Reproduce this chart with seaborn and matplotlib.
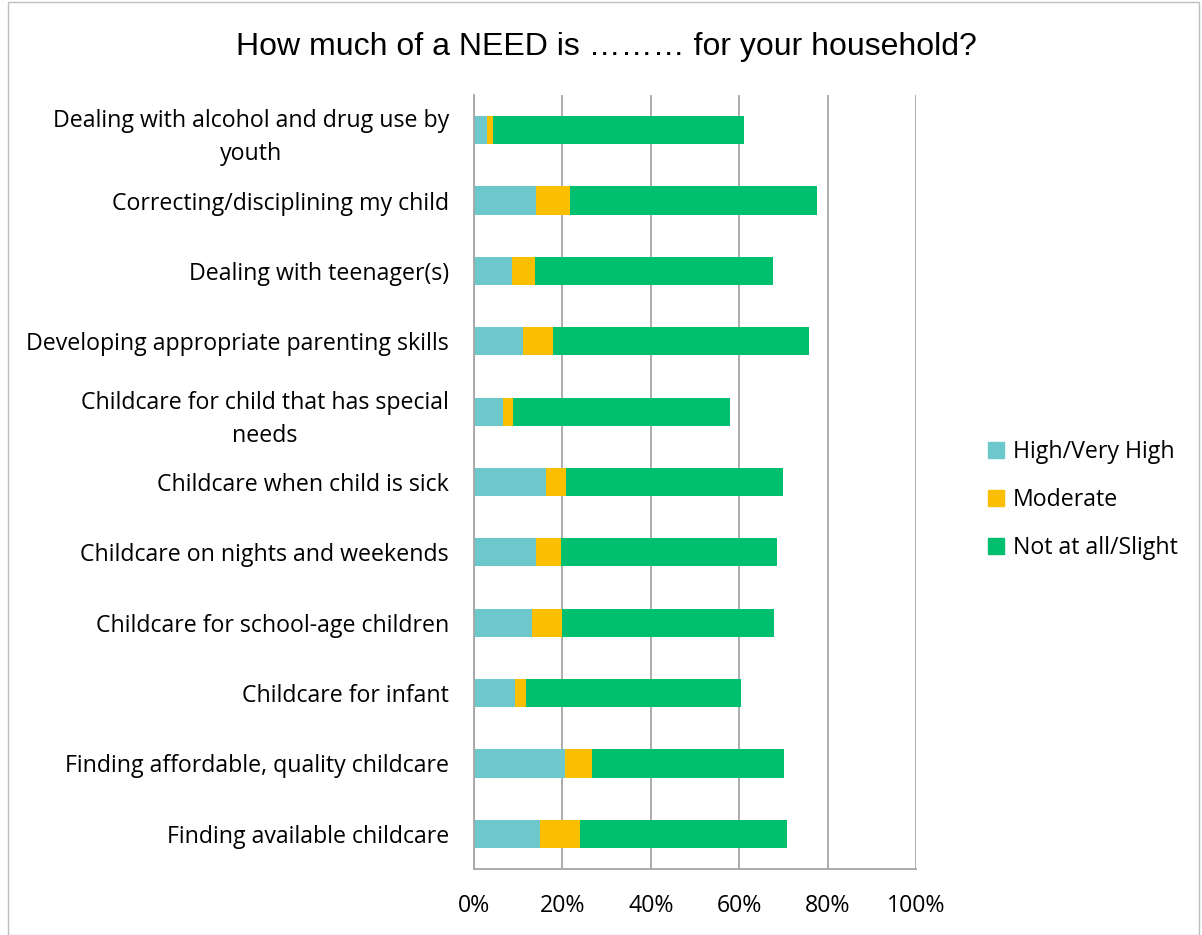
import matplotlib
matplotlib.use("Agg")
import matplotlib.pyplot as plt
import seaborn as sns
import pandas as pd
import numpy as np
from matplotlib.patches import Rectangle
from matplotlib.lines import Line2D

categories = [
    "Dealing with alcohol and drug use by\nyouth",
    "Correcting/disciplining my child",
    "Dealing with teenager(s)",
    "Developing appropriate parenting skills",
    "Childcare for child that has special\nneeds",
    "Childcare when child is sick",
    "Childcare on nights and weekends",
    "Childcare for school-age children",
    "Childcare for infant",
    "Finding affordable, quality childcare",
    "Finding available childcare",
]
high = [3.0, 14.1, 8.6, 11.1, 6.5, 16.2, 14.1, 13.2, 9.3, 20.5, 15.0]
moderate = [1.4, 7.6, 5.2, 6.7, 2.4, 4.6, 5.6, 6.8, 2.5, 6.2, 9.0]
not_at_all = [56.6, 56.0, 53.8, 58.1, 49.0, 49.1, 48.8, 47.9, 48.5, 43.4, 46.8]
series_names = ["High/Very High", "Moderate", "Not at all/Slight"]
colors = ["#6DC8CC", "#F9BF00", "#00BF6F"]
xticks = [0, 20, 40, 60, 80, 100]
xticklabels = ["0%", "20%", "40%", "60%", "80%", "100%"]

df = pd.DataFrame({"category": categories, "high": high,
                   "moderate": moderate, "not": not_at_all})
df["c1"] = df["high"]
df["c2"] = df["high"] + df["moderate"]
df["c3"] = df["c2"] + df["not"]

sns.set_style("white")
plt.rcParams["font.family"] = ["Open Sans", "DejaVu Sans"]
plt.rcParams["text.color"] = "black"
plt.rcParams["xtick.color"] = "black"
plt.rcParams["ytick.color"] = "black"

FS = 16.7

fig = plt.figure(figsize=(12.02, 9.35), dpi=100)
ax = fig.add_axes([474/1202, 1-869/935, (916-474)/1202, (869-95)/935])

for col, color in zip(["c3", "c2", "c1"], colors[::-1]):
    sns.barplot(data=df, x=col, y="category", order=categories, color=color,
                width=0.4, orient="h", ax=ax, saturation=1, edgecolor="none",
                linewidth=0)

ax.set_xlim(0, 100)
ax.set_ylim(len(categories) - 0.5, -0.5)
ax.set_xticks(xticks)
ax.set_xticklabels(xticklabels, fontsize=FS)
ax.set_xlabel("")
ax.set_ylabel("")
ax.grid(axis="x", color="#A6A6A6", linewidth=1.3)
ax.set_axisbelow(True)
for s in ["top", "right"]:
    ax.spines[s].set_visible(False)
for s in ["left", "bottom"]:
    ax.spines[s].set_color("#A6A6A6")
    ax.spines[s].set_linewidth(1.3)

ax.set_yticks(range(len(categories)))
ax.set_yticklabels(categories, fontsize=FS, linespacing=1.5)
ax.tick_params(axis="y", length=0, pad=18)
ax.set_yticks(np.arange(-0.5, len(categories), 1.0), minor=True)
ax.tick_params(axis="y", which="minor", length=8, color="#A6A6A6", width=1.3)
ax.tick_params(axis="x", length=5, color="#A6A6A6", width=1.3, pad=13)
for lbl in ax.get_yticklabels():
    lbl.set_multialignment("center")

fig.text(606/1202, 1-47/935, "How much of a NEED is \u2026\u2026\u2026 for your household?",
         ha="center", va="center", fontsize=23, family="Liberation Sans")

handles = [Line2D([0], [0], marker="s", linestyle="none", markersize=11,
                  markerfacecolor=c, markeredgecolor=c) for c in colors]
fig.legend(handles, series_names, loc="center left",
           bbox_to_anchor=(964/1202, 1-500/935), frameon=False, fontsize=FS,
           handletextpad=0.2, labelspacing=1.05, handlelength=1.0)

fig.patches.append(Rectangle((8/1202, 0), 1191/1202, 0.998, transform=fig.transFigure,
                             fill=False, edgecolor="#BFBFBF", linewidth=1))

fig.savefig("out.png", dpi=100)
